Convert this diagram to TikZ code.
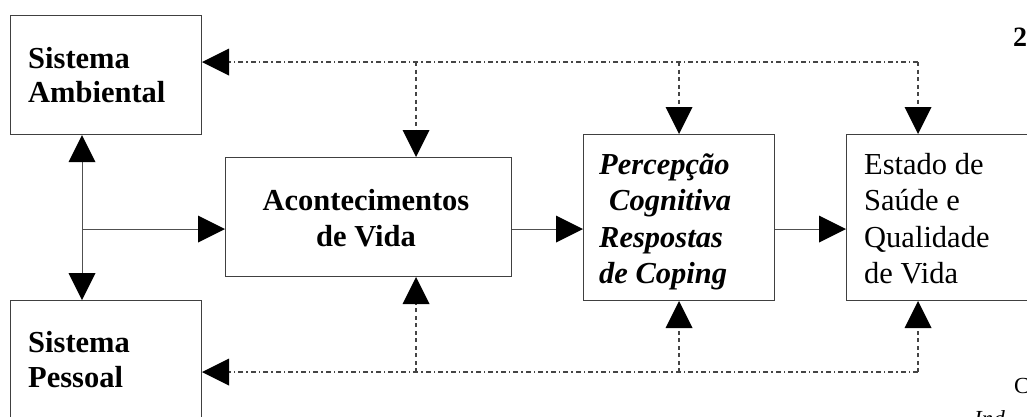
\documentclass[tikz,border=0pt]{standalone}
\usepackage{fontspec}
\setmainfont{Liberation Serif}
\usetikzlibrary{arrows.meta}
\definecolor{boxgray}{HTML}{404040}
\definecolor{linegray}{HTML}{505050}
\definecolor{dashgray}{HTML}{454545}
\begin{document}
\begin{tikzpicture}[x=1pt,y=-1pt,
  box/.style={draw=boxgray, line width=1pt, rectangle, inner sep=0pt, anchor=north west},
  bigtip/.tip={Triangle[length=27pt,width=27pt,color=black,line width=0pt]},
  solidlink/.style={draw=linegray, line width=1pt, -bigtip},
  hdash/.style={draw=dashgray, line width=1.1pt, dash pattern=on 5pt off 3pt on 1.5pt off 3pt},
  vdash/.style={draw=dashgray, line width=1.1pt, dash pattern=on 4pt off 3.5pt},
  lbl/.style={inner sep=0pt, anchor=base west, font=\fontsize{30.5}{36}\selectfont},
  lblb/.style={lbl, font=\fontsize{30.5}{36}\selectfont\bfseries},
  lblbi/.style={lbl, font=\fontsize{30.5}{36}\selectfont\bfseries\itshape},
  frag/.style={inner sep=0pt, anchor=base west}
]
\useasboundingbox (0,0) rectangle (1027,416);

% boxes
\node[box, minimum width=191pt, minimum height=119pt] (amb) at (10,15) {};
\node[box, minimum width=191pt, minimum height=140pt] (pess) at (10,300) {};
\node[box, minimum width=286pt, minimum height=119pt] (acont) at (225,157) {};
\node[box, minimum width=191pt, minimum height=166pt] (perc) at (583,134) {};
\node[box, minimum width=200pt, minimum height=166pt] (est) at (846,134) {};

% texts
\node[lblb] (amb1) at (28,68) {Sistema};
\node[lblb] (amb2) at (28,102) {Ambiental};
\node[lblb] (pess1) at (28,352) {Sistema};
\node[lblb] (pess2) at (28,387) {Pessoal};
\node[lblb, anchor=base] (ac1) at (366,210) {Acontecimentos};
\node[lblb, anchor=base] (ac2) at (366,246) {de Vida};
\node[lblbi] (pc1) at (599,174) {Percepção};
\node[lblbi] (pc2) at (609,210) {Cognitiva};
\node[lblbi] (pc3) at (599,247) {Respostas};
\node[lblbi] (pc4) at (599,283) {de Coping};
\node[lbl] (es1) at (864,174) {Estado de};
\node[lbl] (es2) at (864,210) {Saúde e};
\node[lbl] (es3) at (864,247) {Qualidade};
\node[lbl] (es4) at (864,283) {de Vida};

% cut-off fragments at the edges
\node[frag, font=\fontsize{28}{32}\selectfont\bfseries] (f1) at (1013,46) {2)};
\node[frag, font=\fontsize{23}{27}\selectfont] (f2) at (1014,393) {C};
\node[frag, font=\fontsize{23}{27}\selectfont\itshape] (f3) at (974,426) {Ind};

% solid connectors
\coordinate (j) at (82,229);
\draw[solidlink, bigtip-bigtip] (j |- amb.south) -- (j |- pess.north);
\draw[solidlink] (j) -- (acont.west |- j);
\draw[solidlink] (acont.east |- j) -- (perc.west |- j);
\draw[solidlink] (perc.east |- j) -- (est.west |- j);

% dashed feedback top
\coordinate (tA) at (416,62);
\coordinate (tP) at (679,62);
\coordinate (tE) at (918,62);
\draw[hdash, -bigtip] (tE) -- (amb.east |- tE);
\draw[vdash, -bigtip] (tA) -- (tA |- acont.north);
\draw[vdash, -bigtip] (tP) -- (tP |- perc.north);
\draw[vdash, -bigtip] (tE) -- (tE |- est.north);

% dashed feedback bottom
\coordinate (bA) at (416,372);
\coordinate (bP) at (679,372);
\coordinate (bE) at (918,372);
\draw[hdash, -bigtip] (bE) -- (pess.east |- bE);
\draw[vdash, -bigtip] (bA) -- (bA |- acont.south);
\draw[vdash, -bigtip] (bP) -- (bP |- perc.south);
\draw[vdash, -bigtip] (bE) -- (bE |- est.south);
\end{tikzpicture}
\end{document}
